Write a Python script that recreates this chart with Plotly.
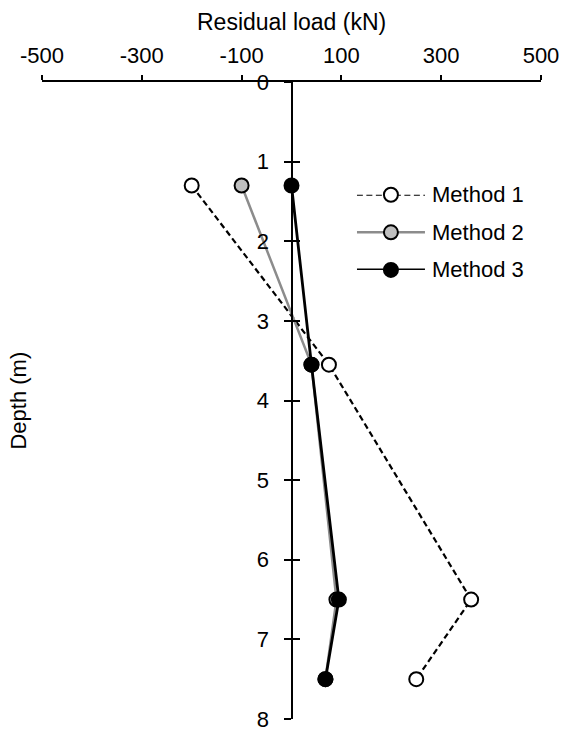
import plotly.graph_objects as go

# Residual load profiles along the pile, three back-calculation methods
depth = [1.3, 3.55, 6.5, 7.5]
method1 = [-200, 75, 360, 250]
method2 = [-100, 40, 90, 68]
method3 = [0, 40, 95, 68]

x_ticks = [-500, -300, -100, 100, 300, 500]
x_labels = ["-500", "-300", "-100", "100", "300", "500"]
y_ticks = [0, 1, 2, 3, 4, 5, 6, 7, 8]

FONT = "Liberation Sans, Arial, sans-serif"
names = ["Method 1", "Method 2", "Method 3"]
styles = [
    dict(line=dict(color="black", width=2.2, dash="6px,3.5px"),
         marker=dict(color="white", size=14, line=dict(color="black", width=2))),
    dict(line=dict(color="#8c8c8c", width=2.5),
         marker=dict(color="#bfbfbf", size=14, line=dict(color="black", width=2))),
    dict(line=dict(color="black", width=2.8),
         marker=dict(color="black", size=14, line=dict(color="black", width=2))),
]

fig = go.Figure()
for name, xs, st in zip(names, [method1, method2, method3], styles):
    fig.add_trace(go.Scatter(x=xs, y=depth, mode="lines+markers", name=name,
                             showlegend=False, cliponaxis=False, **st))

# second y axis on the same line, carrying the inward half of the crossing ticks
fig.add_trace(go.Scatter(x=[0], y=[0], yaxis="y2", mode="markers",
                         marker=dict(opacity=0), showlegend=False, hoverinfo="skip"))

# legend drawn on its own small axes
for i, (name, st) in enumerate(zip(names, styles)):
    fig.add_trace(go.Scatter(x=[0, 1, 2], y=[-i, -i, -i], xaxis="x3", yaxis="y3",
                             mode="lines", line=st["line"], showlegend=False,
                             hoverinfo="skip", cliponaxis=False))
    fig.add_trace(go.Scatter(x=[1], y=[-i], xaxis="x3", yaxis="y3",
                             mode="markers", marker=st["marker"], showlegend=False,
                             hoverinfo="skip", cliponaxis=False))
    fig.add_annotation(x=2, y=-i, xref="x3", yref="y3", text=name, showarrow=False,
                       xanchor="left", xshift=5, font=dict(family=FONT, size=22, color="black"))

axis_common = dict(showgrid=False, zeroline=False, color="black", automargin=False,
                   tickfont=dict(family=FONT, size=22, color="black"))

fig.update_layout(
    width=565, height=734,
    margin=dict(l=42, r=24, t=82, b=15),
    paper_bgcolor="white", plot_bgcolor="white",
    xaxis=dict(range=[-500, 500], side="top", tickvals=x_ticks, ticktext=x_labels,
               ticks="outside", ticklen=5, tickwidth=2, showline=True, linewidth=2,
               linecolor="black", ticklabelstandoff=3, **axis_common),
    yaxis=dict(range=[8, 0], tickvals=y_ticks, anchor="free", position=0.5,
               ticks="outside", ticklen=7, tickwidth=2, showline=True, linewidth=2,
               linecolor="black", ticklabelstandoff=10, **axis_common),
    yaxis2=dict(range=[8, 0], tickvals=y_ticks, overlaying="y", anchor="free",
                position=0.5, ticks="inside", ticklen=7, tickwidth=2,
                showticklabels=False, showline=False, showgrid=False, zeroline=False,
                tickcolor="black", automargin=False),
    xaxis3=dict(domain=[0.631, 0.7675], range=[0, 2], visible=False, fixedrange=True,
                automargin=False),
    yaxis3=dict(domain=[0.705, 0.823], range=[-2, 0], visible=False, fixedrange=True,
                anchor="x3", automargin=False),
    font=dict(family=FONT, color="black"),
)

fig.add_annotation(x=0.5, y=1, xref="paper", yref="paper", yshift=60,
                   text="Residual load (kN)", showarrow=False, yanchor="middle",
                   xanchor="center", font=dict(family=FONT, size=23, color="black"))
fig.add_annotation(x=-0.048, y=0.5, xref="paper", yref="paper", textangle=-90,
                   text="Depth (m)", showarrow=False, xanchor="center", yanchor="middle",
                   font=dict(family=FONT, size=22, color="black"))

fig.write_html("out.html")
